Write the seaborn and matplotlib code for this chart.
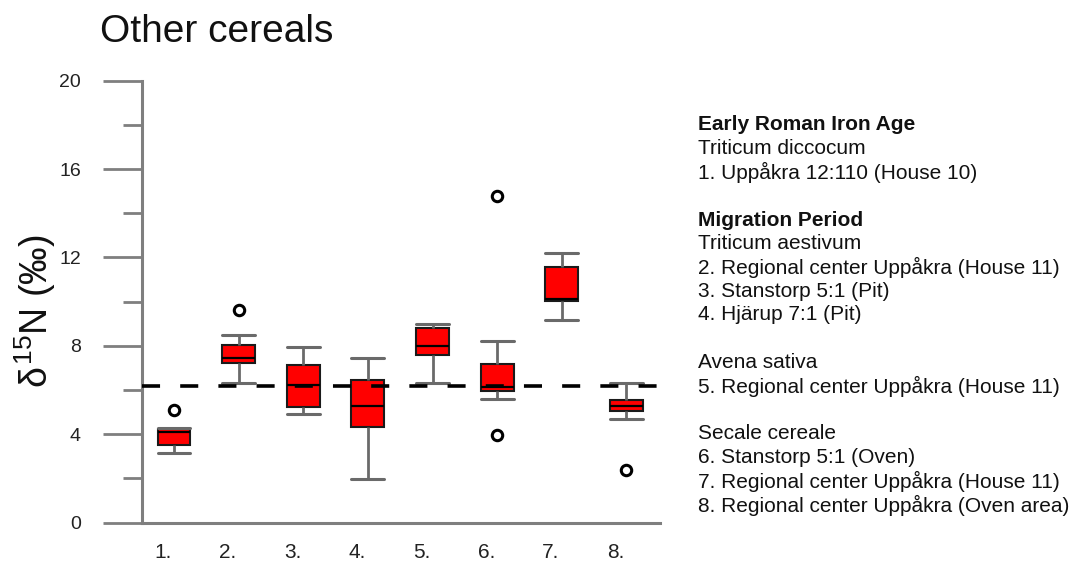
import numpy as np
import pandas as pd
import matplotlib
matplotlib.use("Agg")
import matplotlib.pyplot as plt
from matplotlib.transforms import ScaledTranslation
import seaborn as sns

# Sample groups (x-axis categories)
groups = ["1.", "2.", "3.", "4.", "5.", "6.", "7.", "8."]

# Five-number summaries of δ15N (‰) per group
whisker_low = [3.15, 6.32, 4.89, 1.98, 6.32, 5.57, 9.17, 4.69]
q1 = [3.53, 7.21, 5.25, 4.31, 7.56, 5.97, 10.04, 5.04]
median = [4.09, 7.43, 6.24, 5.26, 7.98, 6.15, 10.10, 5.29]
q3 = [4.24, 8.04, 7.15, 6.46, 8.79, 7.18, 11.55, 5.55]
whisker_high = [4.26, 8.49, 7.93, 7.45, 8.99, 8.20, 12.19, 6.32]

# Outlying measurements
outlier_group = ["1.", "2.", "6.", "6.", "8."]
outlier_value = [5.10, 9.62, 14.77, 3.97, 2.38]

# Reference level (dashed line)
reference_level = 6.2

# Legend text on the right
legend_lines = [
    ("Early Roman Iron Age", "bold"),
    ("Triticum diccocum", "normal"),
    ("1. Uppåkra 12:110 (House 10)", "normal"),
    ("", "normal"),
    ("Migration Period", "bold"),
    ("Triticum aestivum", "normal"),
    ("2. Regional center Uppåkra (House 11)", "normal"),
    ("3. Stanstorp 5:1 (Pit)", "normal"),
    ("4. Hjärup 7:1 (Pit)", "normal"),
    ("", "normal"),
    ("Avena sativa", "normal"),
    ("5. Regional center Uppåkra (House 11)", "normal"),
    ("", "normal"),
    ("Secale cereale", "normal"),
    ("6. Stanstorp 5:1 (Oven)", "normal"),
    ("7. Regional center Uppåkra (House 11)", "normal"),
    ("8. Regional center Uppåkra (Oven area)", "normal"),
]

sns.set_style("white")
plt.rcParams["font.family"] = ["Liberation Sans", "DejaVu Sans"]
plt.rcParams["mathtext.fontset"] = "custom"
plt.rcParams["mathtext.rm"] = "Liberation Sans"
plt.rcParams["mathtext.it"] = "Liberation Sans"
plt.rcParams["lines.scale_dashes"] = False

# Each five-number summary becomes a small sample whose quartiles equal it
box_df = pd.DataFrame({
    "group": np.repeat(groups, 5),
    "value": np.column_stack([whisker_low, q1, median, q3, whisker_high]).ravel(),
})
out_df = pd.DataFrame({"group": outlier_group, "value": outlier_value})

W, H, DPI = 1092, 563, 100
fig = plt.figure(figsize=(W / DPI, H / DPI), dpi=DPI)
ax = fig.add_axes([142 / W, 1 - 522.5 / H, (660 - 142) / W, (522.5 - 80.7) / H])

whisk_color = "#6a6a6a"
sns.boxplot(
    data=box_df, x="group", y="value", order=groups, ax=ax,
    width=0.51, whis=(0, 100), color="#ff0000", saturation=1,
    showfliers=False,
    boxprops=dict(facecolor="#ff0000", edgecolor="#1a1a1a", linewidth=1.5),
    medianprops=dict(color="#000000", linewidth=1.6),
    whiskerprops=dict(color=whisk_color, linewidth=2.0),
    capprops=dict(color=whisk_color, linewidth=2.2),
    capwidths=0.51,
)

sns.stripplot(
    data=out_df, x="group", y="value", order=groups, ax=ax,
    jitter=False, marker="o", size=7.5, color="white",
    edgecolor="black", linewidth=2.2, zorder=5,
)

ax.axhline(reference_level, color="black", linewidth=2.6,
           dashes=(13, 14.5), zorder=4)

ax.set_xlim(-0.495, 7.52)
ax.set_ylim(0, 20)
ax.set_yticks([0, 4, 8, 12, 16, 20])
ax.set_yticks([2, 6, 10, 14, 18], minor=True)
ax.set_yticklabels(["0", "4", "8", "12", "16", "20"], fontsize=14)
ax.set_xticks(range(len(groups)))
ax.set_xticklabels(groups, fontsize=15, ha="right")

spine_color = "#7f7f7f"
for side in ["top", "right"]:
    ax.spines[side].set_visible(False)
for side in ["left", "bottom"]:
    ax.spines[side].set_color(spine_color)
    ax.spines[side].set_linewidth(2.2)

ax.tick_params(axis="y", which="major", length=28, width=2.0,
               color=spine_color, direction="out", pad=16, left=True,
               labelcolor="#222222")
ax.tick_params(axis="y", which="minor", length=14, width=2.0,
               color=spine_color, direction="out", left=True)
ax.tick_params(axis="x", which="both", length=0, pad=15,
               labelcolor="#222222")
# x labels: right edge just left of the box centre
for lab in ax.get_xticklabels():
    lab.set_transform(lab.get_transform() + ScaledTranslation(-1.5 / 72, 0, fig.dpi_scale_trans))

ax.set_xlabel("")
ax.set_ylabel("")
ax.grid(False)

fig.text(100 / W, 1 - 32 / H, "Other cereals", fontsize=28,
         ha="left", va="center", color="#111111")

fig.text(35 / W, 1 - 311 / H, r"$\delta^{15}$N (‰)", fontsize=27,
         rotation=90, ha="center", va="center", color="#111111")

y0, step = 125.0, 23.75
for i, (line, weight) in enumerate(legend_lines):
    if line:
        fig.text(698 / W, 1 - (y0 + i * step) / H, line, fontsize=15,
                 fontweight=weight, ha="left", va="center", color="#111111")

fig.savefig("out.png", dpi=DPI)
